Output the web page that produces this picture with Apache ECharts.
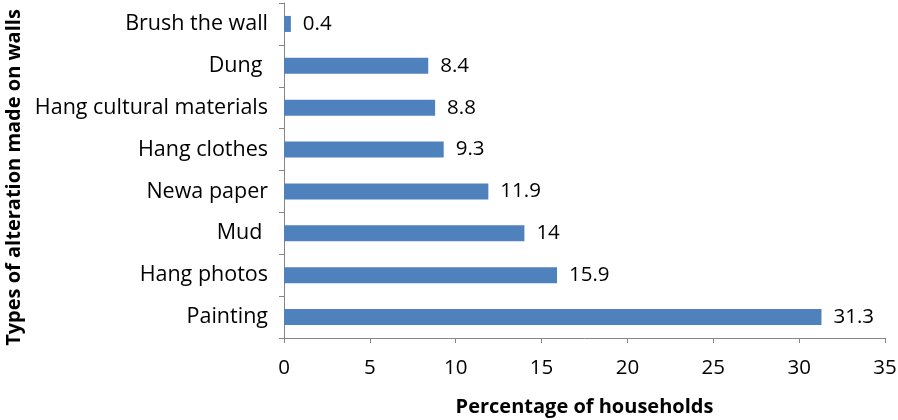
<!DOCTYPE html>
<html><head><meta charset="utf-8">
<script src="https://cdn.jsdelivr.net/npm/echarts@6/dist/echarts.min.js"></script>
<style>html,body{margin:0;padding:0;background:#fff}#c{width:898px;height:420px}</style>
</head><body><div id="c"></div>
<script>
const categories = ["Brush the wall", "Dung ", "Hang cultural materials", "Hang clothes", "Newa paper", "Mud ", "Hang photos", "Painting"];
const values = [0.4, 8.4, 8.8, 9.3, 11.9, 14, 15.9, 31.3];
const xTicks = [0, 5, 10, 15, 20, 25, 30, 35];
const font = "'Open Sans', sans-serif";
const chart = echarts.init(document.getElementById('c'), null, {renderer: 'canvas'});
chart.setOption({
  animation: false,
  grid: {left: 284, right: 13, top: 3, bottom: 82, containLabel: false, outerBoundsMode: 'none'},
  xAxis: {
    type: 'value', min: xTicks[0], max: xTicks[xTicks.length - 1], interval: 5,
    name: 'Percentage of households', nameLocation: 'middle', nameGap: 59,
    nameTextStyle: {fontFamily: font, fontSize: 20, fontWeight: 'bold', color: '#000'},
    axisLine: {show: true, lineStyle: {color: '#868686', width: 1}},
    axisTick: {show: true, length: 5, lineStyle: {color: '#868686'}},
    axisLabel: {fontFamily: font, fontSize: 20.5, color: '#000', margin: 20},
    splitLine: {show: false}
  },
  yAxis: {
    type: 'category', data: categories, inverse: true,
    name: 'Types of alteration made on walls', nameLocation: 'middle', nameGap: 260,
    nameTextStyle: {fontFamily: font, fontSize: 20, fontWeight: 'bold', color: '#000', padding: [0, 14, 0, 0]},
    axisLine: {show: true, lineStyle: {color: '#868686', width: 1}},
    axisTick: {show: true, length: 5, inside: false, alignWithLabel: false, lineStyle: {color: '#868686'}},
    axisLabel: {fontFamily: font, fontSize: 21.5, color: '#000', margin: 16}
  },
  series: [{
    type: 'bar', data: values, barWidth: 16,
    itemStyle: {color: '#4F81BD'},
    label: {show: true, position: 'right', distance: 12, fontFamily: font, fontSize: 20.5, color: '#000'}
  }]
});
</script></body></html>
